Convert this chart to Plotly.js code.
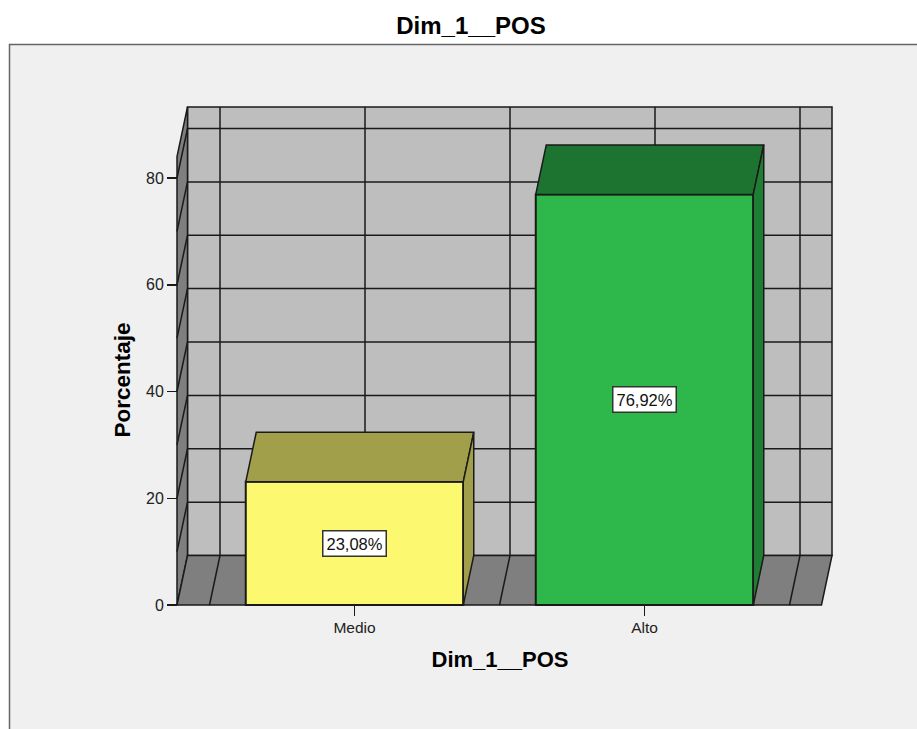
<!DOCTYPE html>
<html><head><meta charset="utf-8">
<script src="https://cdn.plot.ly/plotly-3.0.1.min.js"></script>
<style>html,body{margin:0;padding:0;background:#fff;overflow:hidden}#c{width:917px;height:729px}</style>
</head><body><div id="c"></div>
<script>
const categories = ['Medio', 'Alto'];
const percentages = [23.08, 76.92];
const valueLabels = ['23,08%', '76,92%'];
const frontColors = ['#FCF86F', '#2EB84B'];
const topColors = ['#A19F4A', '#1C7430'];
const sideColors = ['#A19F4A', '#1E7E34'];
const yTicks = [0, 20, 40, 60, 80];
const gridValues = [10, 20, 30, 40, 50, 60, 70, 80];
const wallLines = [-0.5, 0, 0.5, 1, 1.5];
const chartTitle = 'Dim_1__POS';
const yTitle = 'Porcentaje';

const W = 917, H = 729;
// plot box is a little larger than the drawn box so the axis titles centre correctly
const L = 160, R = 840, T = 100, B = 660;
const xPerPx = 1 / 290, yPerPx = 1 / 5.3375;
const xOf = p => (p - 354.5) * xPerPx, yOf = p => (605 - p) * yPerPx;
const xFront = xOf(177), xMax = xOf(832), yMax = yOf(107);
const dx = 10.5 * xPerPx, dy = 49.5 * yPerPx;
const barW = 0.75;
const px = v => (v - L) / (R - L), py = v => (B - v) / (B - T);
const ink = '#1a1a1a';

const path = pts => 'M' + pts.map(p => p[0] + ' ' + p[1]).join('L') + 'Z';
const seg = (a, b) => ({type: 'line', layer: 'below', x0: a[0], y0: a[1], x1: b[0], y1: b[1], line: {color: ink, width: 1.5}});
const poly = (pts, fill) => ({type: 'path', layer: 'below', path: path(pts), fillcolor: fill, line: {color: ink, width: 1.5}});

const shapes = [
  {type: 'rect', layer: 'below', xref: 'paper', yref: 'paper', x0: px(9.5), x1: px(W + 20), y0: py(44.5), y1: py(H + 20),
   fillcolor: '#F0F0F0', line: {color: '#666666', width: 1.5}},
  poly([[xFront + dx, dy], [xMax, dy], [xMax, yMax], [xFront + dx, yMax]], '#BEBEBE'),
  poly([[xFront, 0], [xFront + dx, dy], [xFront + dx, yMax], [xFront, yMax - dy]], '#7F7F7F'),
  poly([[xFront, 0], [xMax - dx, 0], [xMax, dy], [xFront + dx, dy]], '#7F7F7F')
];
gridValues.forEach(v => {
  shapes.push(seg([xFront + dx, v + dy], [xMax, v + dy]));
  shapes.push(seg([xFront, v], [xFront + dx, v + dy]));
});
wallLines.forEach(c => {
  shapes.push(seg([c + dx, dy], [c + dx, yMax]));
  shapes.push(seg([c, 0], [c + dx, dy]));
});

const xs = categories.map((_, i) => i);
const traces = [{
  type: 'bar', x: xs, y: percentages, width: barW, showlegend: false, hoverinfo: 'skip',
  marker: {color: frontColors, line: {color: ink, width: 2}}
}];
xs.forEach(i => {
  const a = i - barW / 2, b = i + barW / 2, v = percentages[i];
  const face = (X, Y, c) => ({type: 'scatter', mode: 'lines', x: X, y: Y, fill: 'toself', fillcolor: c,
    line: {color: ink, width: 1.5}, showlegend: false, hoverinfo: 'skip'});
  traces.push(face([a, b, b + dx, a + dx, a], [v, v, v + dy, v + dy, v], topColors[i]));
  traces.push(face([b, b + dx, b + dx, b, b], [0, dy, v + dy, v, 0], sideColors[i]));
});

const layout = {
  width: W, height: H, margin: {l: L, r: W - R, t: T, b: H - B, pad: 0},
  paper_bgcolor: '#FFFFFF', plot_bgcolor: 'rgba(0,0,0,0)',
  font: {family: 'Liberation Sans, Arial, sans-serif', color: '#111111'},
  title: {text: chartTitle, x: 471 / W, xref: 'container', xanchor: 'center', y: 1 - 26 / H, yref: 'container', yanchor: 'middle',
    font: {size: 24, family: 'Liberation Sans, Arial, sans-serif', color: '#000', weight: 'bold'}},
  xaxis: {range: [xOf(L), xOf(R)], tickvals: xs, ticktext: categories, ticks: 'outside', ticklen: 10, tickwidth: 1.5, tickcolor: ink,
    anchor: 'free', position: py(605), ticklabelstandoff: -2,
    showgrid: false, zeroline: false, showline: false, tickfont: {size: 15.5, color: '#222'},
    title: {text: chartTitle, standoff: 17, font: {size: 22, weight: 'bold', color: '#000'}}},
  yaxis: {range: [yOf(B), yOf(T)], tickvals: yTicks, ticks: 'outside', ticklen: 10, tickwidth: 1.5, tickcolor: ink,
    anchor: 'free', position: px(177),
    showgrid: false, zeroline: false, showline: false, tickfont: {size: 16, color: '#222'},
    title: {text: yTitle, standoff: 8, font: {size: 22.5, weight: 'bold', color: '#000'}}},
  bargap: 0.25, shapes: shapes,
  annotations: xs.map(i => ({x: i, y: percentages[i] / 2, text: valueLabels[i], showarrow: false,
    bgcolor: '#FFFFFF', bordercolor: '#333333', borderwidth: 1.5, borderpad: 3, font: {size: 16.5, color: '#111'}}))
};
Plotly.newPlot('c', traces, layout, {displayModeBar: false, staticPlot: true});
</script></body></html>
